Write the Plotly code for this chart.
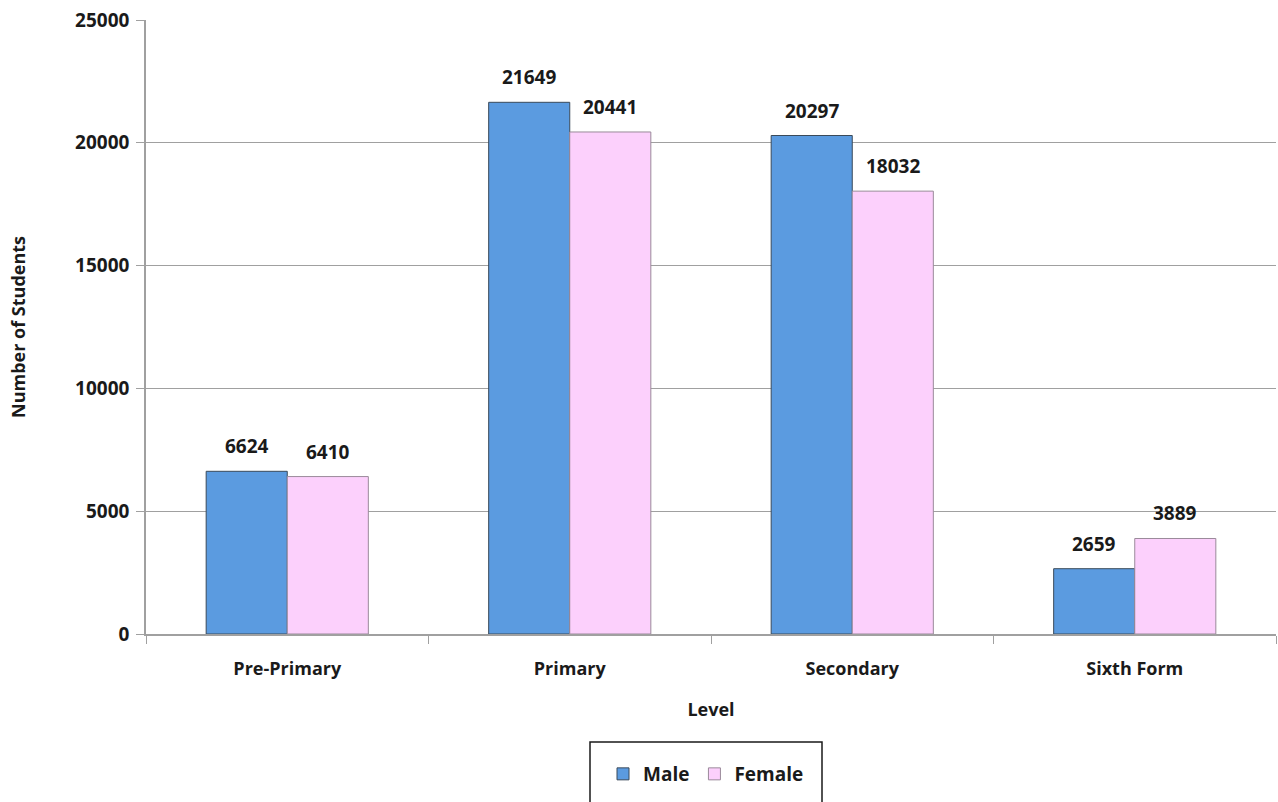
import plotly.graph_objects as go

levels = ["Pre-Primary", "Primary", "Secondary", "Sixth Form"]
male = [6624, 21649, 20297, 2659]
female = [6410, 20441, 18032, 3889]
y_ticks = [0, 5000, 10000, 15000, 20000, 25000]

FONT = "Open Sans"
TXT = "#1a1a1a"
fig = go.Figure()
fig.add_trace(go.Bar(
    name="Male", x=levels, y=male,
    marker=dict(color="#5b9be0", line=dict(color="#3a4a5a", width=1)),
))
fig.add_trace(go.Bar(
    name="Female", x=levels, y=female,
    marker=dict(color="#fcd0fc", line=dict(color="#9a8a9a", width=1)),
))

L, R, T, B = 146, 2, 20, 168
W, H = 1278, 802
pw, ph = W - L - R, H - T - B
BAR_HALF = 40.5  # half of one bar width in px

# value labels above bars
for series, shift in ((male, -BAR_HALF), (female, BAR_HALF)):
    for lvl, v in zip(levels, series):
        fig.add_annotation(
            x=lvl, y=v, xref="x", yref="y", text=str(v), showarrow=False,
            xshift=shift, yshift=10, yanchor="bottom",
            font=dict(family=FONT, size=19, color=TXT, weight="bold"),
        )

fig.update_layout(
    width=W, height=H,
    margin=dict(l=L, r=R, t=T, b=B),
    paper_bgcolor="white", plot_bgcolor="white",
    barmode="group", bargap=0.426, bargroupgap=0,
    font=dict(family=FONT, size=15, color=TXT),
    showlegend=True,
    legend=dict(
        orientation="h", x=(706 - L) / pw, xanchor="center",
        y=(T + ph - 755) / ph, yanchor="top",
        font=dict(family=FONT, size=19, color=TXT, weight="bold"),
        bgcolor="rgba(0,0,0,0)", borderwidth=0,
    ),
)
fig.update_xaxes(
    showgrid=False, showline=True, linecolor="#a0a0a0", linewidth=1.5,
    ticks="outside", tickson="boundaries", ticklen=8, tickcolor="#a0a0a0",
    ticklabelstandoff=18,
    tickfont=dict(family=FONT, size=18, color=TXT, weight="bold"),
    title=dict(text="Level", font=dict(family=FONT, size=18, color=TXT, weight="bold"), standoff=24),
)
fig.update_yaxes(
    range=[0, 25000], tickvals=y_ticks, tickformat="d",
    showgrid=True, gridcolor="#a0a0a0", gridwidth=1,
    showline=True, linecolor="#a0a0a0", linewidth=1.5,
    ticks="outside", ticklen=8, tickcolor="#a0a0a0",
    ticklabelstandoff=3,
    tickfont=dict(family=FONT, size=19, color=TXT, weight="bold"),
    title=dict(text="Number of Students", font=dict(family=FONT, size=18, color=TXT, weight="bold"), standoff=45),
    zeroline=False,
)
# legend frame
fig.add_shape(
    type="rect", xref="paper", yref="paper",
    x0=(590 - L) / pw, x1=(822 - L) / pw,
    y0=(T + ph - 812) / ph, y1=(T + ph - 742) / ph,
    line=dict(color="#1a1a1a", width=1.5), fillcolor="rgba(0,0,0,0)",
)
fig.write_html("out.html", config={"displayModeBar": False},
               post_script="document.body.style.margin='0';")
